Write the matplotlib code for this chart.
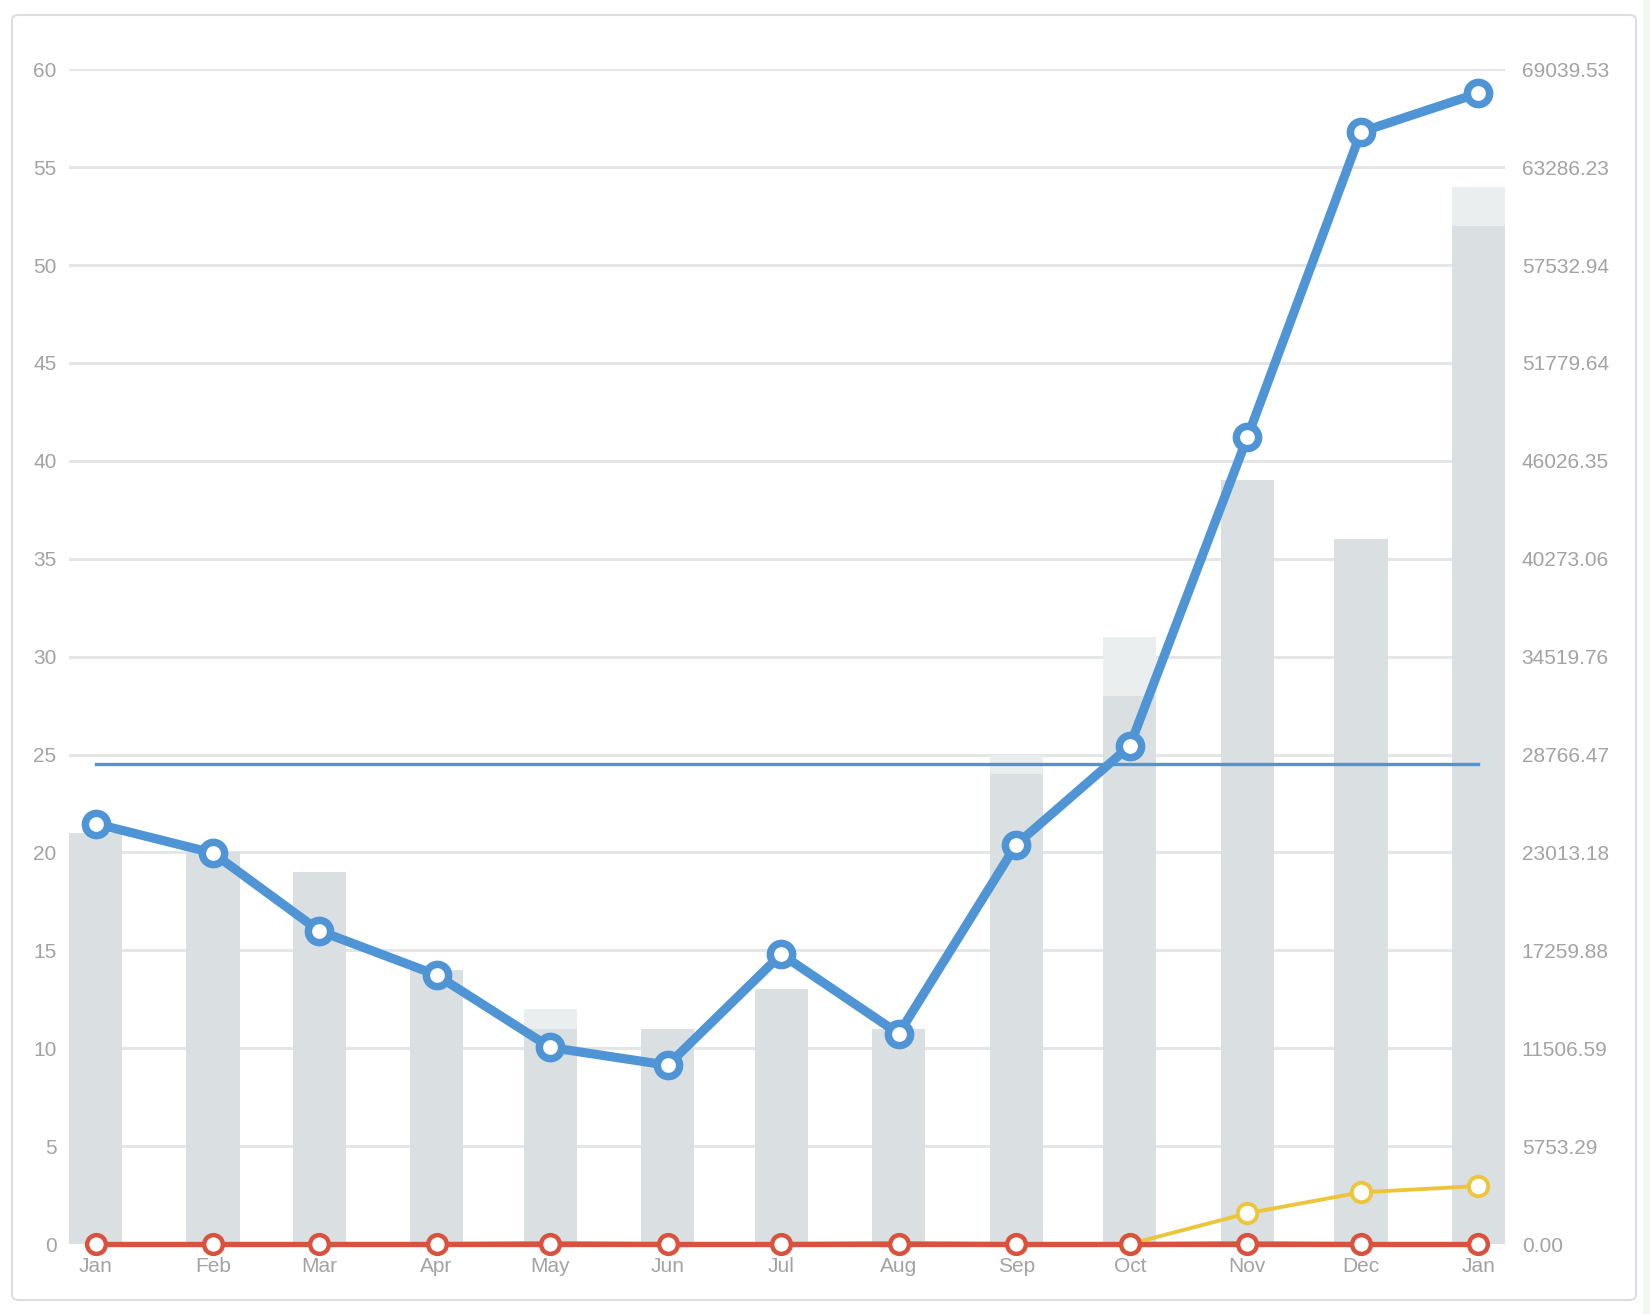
import numpy as np
import matplotlib
matplotlib.use('Agg')
from matplotlib import pyplot as plt
import matplotlib.dates as mdates
from matplotlib.patches import FancyBboxPatch, Rectangle
from datetime import datetime

plt.rcParams['font.family'] = ['Liberation Sans', 'DejaVu Sans']

# data
months = ['2021-01-01', '2021-02-01', '2021-03-01', '2021-04-01', '2021-05-01', '2021-06-01',
          '2021-07-01', '2021-08-01', '2021-09-01', '2021-10-01', '2021-11-01', '2021-12-01',
          '2022-01-01']
bar_base = [21, 20, 19, 14, 11, 11, 13, 11, 24, 28, 39, 36, 52]
bar_extra = [0, 0, 0, 0, 1, 0, 0, 0, 1, 3, 0, 0, 2]
blue_vals = [24705, 22979, 18410, 15810, 11553, 10506, 17030, 12358, 23473, 29273, 47407, 65357, 67636]
yellow_vals = [None, None, None, None, None, None, None, None, None, 0, 1806, 3038, 3406]
red_vals = [0, 0, 0, 0, 0, 0, 0, 0, 0, 0, 0, 0, 0]
green_vals = [0, 0, 0, 0, 60, 0, 0, 60, 0, 0, 60, 0, 0]
left_ticks = [0, 5, 10, 15, 20, 25, 30, 35, 40, 45, 50, 55, 60]
right_max = 69039.526

dates = [datetime.strptime(d, '%Y-%m-%d') for d in months]
yellow_dates = [d for d, v in zip(dates, yellow_vals) if v is not None]
yellow_y = [v for v in yellow_vals if v is not None]

blue = '#4f95d6'
red = '#d9523d'
yellow = '#ecc53a'
grid_c = '#e3e5e6'
label_c = '#a3a3a3'

fig = plt.figure(figsize=(16.5, 13.14), dpi=100)
fig.patch.set_facecolor('white')

# card border (kept behind the axes)
fig.patches.append(FancyBboxPatch((12 / 1650, 1 - 1300 / 1314), 1624 / 1650, 1285 / 1314,
                                  boxstyle='round,pad=0,rounding_size=0.004',
                                  transform=fig.transFigure, facecolor='none',
                                  edgecolor='#dcdedf', linewidth=1.5, zorder=-10))
fig.patches.append(Rectangle((1643 / 1650, 0), 7 / 1650, 1, transform=fig.transFigure,
                             facecolor='#f3f8ee', edgecolor='none', zorder=-10))

ax = fig.add_axes([69 / 1650, 1 - 1244 / 1314, 1436 / 1650, (1244 - 69.3) / 1314])
ax.set_facecolor('none')

# bars (left axis)
ax.bar(dates, bar_base, width=14, color='#dadfe2', zorder=2)
ax.bar(dates, bar_extra, width=14, bottom=bar_base, color='#eaeeef', zorder=2)

ax.set_ylim(0, 60)
ax.set_yticks(left_ticks)
ax.yaxis.grid(True, color=grid_c, linewidth=2.2, zorder=0)
ax.set_axisbelow(True)
ax.set_xlim(datetime(2020, 12, 25), datetime(2022, 1, 8))
ax.xaxis.set_major_locator(mdates.MonthLocator())
ax.xaxis.set_major_formatter(mdates.DateFormatter('%b'))
ax.tick_params(axis='both', length=0, labelsize=15, labelcolor=label_c)
ax.tick_params(axis='y', pad=9)
ax.tick_params(axis='x', pad=9)
for s in ax.spines.values():
    s.set_visible(False)

# lines (right axis)
ax2 = ax.twinx()
ax2.set_ylim(0, right_max)
ax2.set_yticks(np.linspace(0, right_max, 13))
ax2.set_yticklabels(['{:.2f}'.format(v) for v in np.linspace(0, right_max, 13)])
ax2.tick_params(axis='y', length=0, labelsize=15, labelcolor=label_c, pad=12)
for s in ax2.spines.values():
    s.set_visible(False)

ax2.plot(dates, green_vals, color='#7fbf7a', linewidth=3, zorder=3, clip_on=False)
ax2.plot(yellow_dates, yellow_y, color=yellow, linewidth=2.8, marker='o', markersize=14,
         markerfacecolor='white', markeredgecolor=yellow, markeredgewidth=2.8, zorder=3.5, clip_on=False)
ax2.plot(dates, red_vals, color=red, linewidth=3.8, marker='o', markersize=13.5,
         markerfacecolor='white', markeredgecolor=red, markeredgewidth=3.2, zorder=4, clip_on=False)
# mean line
mean_val = np.mean(blue_vals)
ax2.plot([dates[0], dates[-1]], [mean_val, mean_val], color=blue, linewidth=2.4, zorder=5)
ax2.plot(dates, blue_vals, color=blue, linewidth=6.6, marker='o', markersize=16,
         markerfacecolor='white', markeredgecolor=blue, markeredgewidth=5.4, zorder=6, clip_on=False)

plt.savefig('out.png', dpi=100)
plt.close()
